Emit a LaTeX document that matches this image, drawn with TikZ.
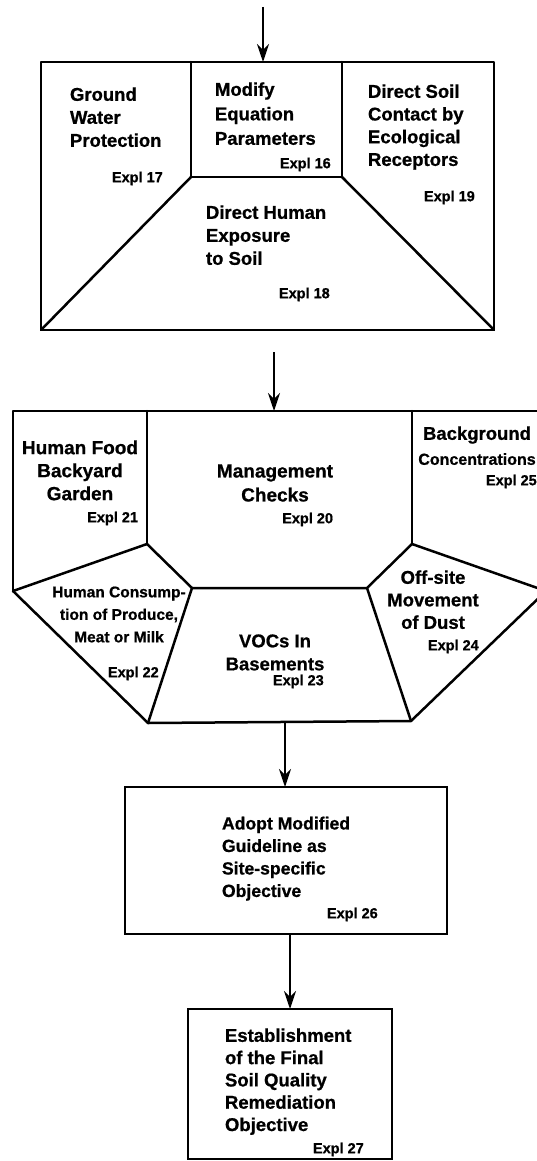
\documentclass[tikz,border=0pt]{standalone}
\usepackage{fontspec}
\setmainfont{Liberation Sans}[BoldFeatures={FakeBold=0.8}]
\usetikzlibrary{arrows.meta}
\tikzset{
  edge/.style={line width=2.5pt, line join=round, line cap=round},
  arr/.style={line width=2.2pt, -{Stealth[length=18pt,width=12pt,inset=6pt]}},
  boxnode/.style={draw, line width=2.5pt, inner sep=0pt, outer sep=0pt},
  txt/.style={inner sep=0pt, outer sep=0pt, align=left, font=\fontsize{18.5}{23}\selectfont\bfseries},
  ctxt/.style={inner sep=0pt, outer sep=0pt, align=center, font=\fontsize{18.5}{23}\selectfont\bfseries},
  expl/.style={inner sep=0pt, outer sep=0pt, font=\fontsize{14.5}{17}\selectfont\bfseries},
}
\begin{document}
\begin{tikzpicture}[x=1pt, y=-1pt]
\useasboundingbox (0,0) rectangle (536,1161);

% ---------- Panel 1 ----------
\coordinate (in1) at (263,7);
\coordinate (p1top) at (263,62);
\draw[edge] (41,62) rectangle (494,330);
\draw[edge] (191,62) -- (191,177) -- (342,177) -- (342,62);
\draw[edge] (191,177) -- (41,330);
\draw[edge] (342,177) -- (494,330);
\draw[arr] (in1) -- (p1top);

\node[txt, anchor=north west] (gw) at (70,87.4) {Ground\\Water\\Protection};
\node[expl, anchor=base west] (e17) at (112,182.2) {Expl 17};
\node[txt, anchor=north west, font=\fontsize{18.5}{24.5}\selectfont\bfseries] (mod) at (215,82.4) {Modify\\Equation\\Parameters};
\node[expl, anchor=base west] (e16) at (280,168.2) {Expl 16};
\node[txt, anchor=north west, font=\fontsize{18.5}{22.7}\selectfont\bfseries] (dsc) at (368,84.4) {Direct Soil\\Contact by\\Ecological\\Receptors};
\node[expl, anchor=base west] (e19) at (424,201.2) {Expl 19};
\node[txt, anchor=north west] (dhe) at (206,205.4) {Direct Human\\Exposure\\to Soil};
\node[expl, anchor=base west] (e18) at (279,298.2) {Expl 18};

% ---------- Panel 2 ----------
\coordinate (in2) at (274,352);
\coordinate (p2top) at (274,411);
\draw[edge] (13,591) -- (13,411) -- (560,411);
\draw[edge] (147,411) -- (147,544);
\draw[edge] (412,411) -- (412,544);
\draw[edge] (546,411) -- (546,591);
\draw[edge] (13,591) -- (147,544) -- (192,588) -- (367,588) -- (412,544) -- (546,591);
\draw[edge] (13,591) -- (148,723) -- (411,721) -- (546,591);
\draw[edge] (192,588) -- (148,723);
\draw[edge] (367,588) -- (411,721);
\draw[arr] (in2) -- (p2top);
\coordinate (p2bot) at (285,722);

\node[ctxt, anchor=north, font=\fontsize{19}{23}\selectfont\bfseries] (hf) at (80,440.4) {Human Food\\Backyard\\Garden};
\node[expl, anchor=base east] (e21) at (138,522.2) {Expl 21};
\node[ctxt, anchor=north, font=\fontsize{19}{24}\selectfont\bfseries] (mc) at (275,464.4) {Management\\Checks};
\node[expl, anchor=base east] (e20) at (333,523.2) {Expl 20};
\node[ctxt, anchor=north, font=\fontsize{18.5}{25}\selectfont\bfseries] (bg) at (477,426.4) {Background\\{\fontsize{16}{25}\selectfont Concentrations}};
\node[expl, anchor=base west] (e25) at (486,485.2) {Expl 25};
\node[ctxt, anchor=north, font=\fontsize{15.5}{22.5}\selectfont\bfseries] (hc) at (119,586.5) {Human Consump-\\tion of Produce,\\Meat or Milk};
\node[expl, anchor=base west] (e22) at (108,677.2) {Expl 22};
\node[ctxt, anchor=north] (voc) at (275,634.4) {VOCs In\\Basements};
\node[expl, anchor=base west] (e23) at (273,685.2) {Expl 23};
\node[ctxt, anchor=north, font=\fontsize{18.5}{22.5}\selectfont\bfseries] (od) at (433,570.4) {Off-site\\Movement\\of Dust};
\node[expl, anchor=base west] (e24) at (428,650.2) {Expl 24};

% ---------- Adopt box ----------
\node[boxnode, minimum width=322pt, minimum height=147pt] (adopt) at (286,860.5) {};
\node[txt, anchor=north west, font=\fontsize{17.6}{22.5}\selectfont\bfseries] (adt) at (222,816.7) {Adopt Modified\\Guideline as\\Site-specific\\Objective};
\node[expl, anchor=base west] (e26) at (327,918.2) {Expl 26};
\draw[arr] (p2bot) -- (p2bot |- adopt.north);

% ---------- Establishment box ----------
\node[boxnode, minimum width=204pt, minimum height=150pt] (est) at (290,1084) {};
\node[txt, anchor=north west, font=\fontsize{18.5}{22.3}\selectfont\bfseries] (estt) at (225,1028.4) {Establishment\\of the Final\\Soil Quality\\Remediation\\Objective};
\node[expl, anchor=base west] (e27) at (313,1153.2) {Expl 27};
\draw[arr] (adopt.south -| est.north) -- (est.north);
\end{tikzpicture}
\end{document}
